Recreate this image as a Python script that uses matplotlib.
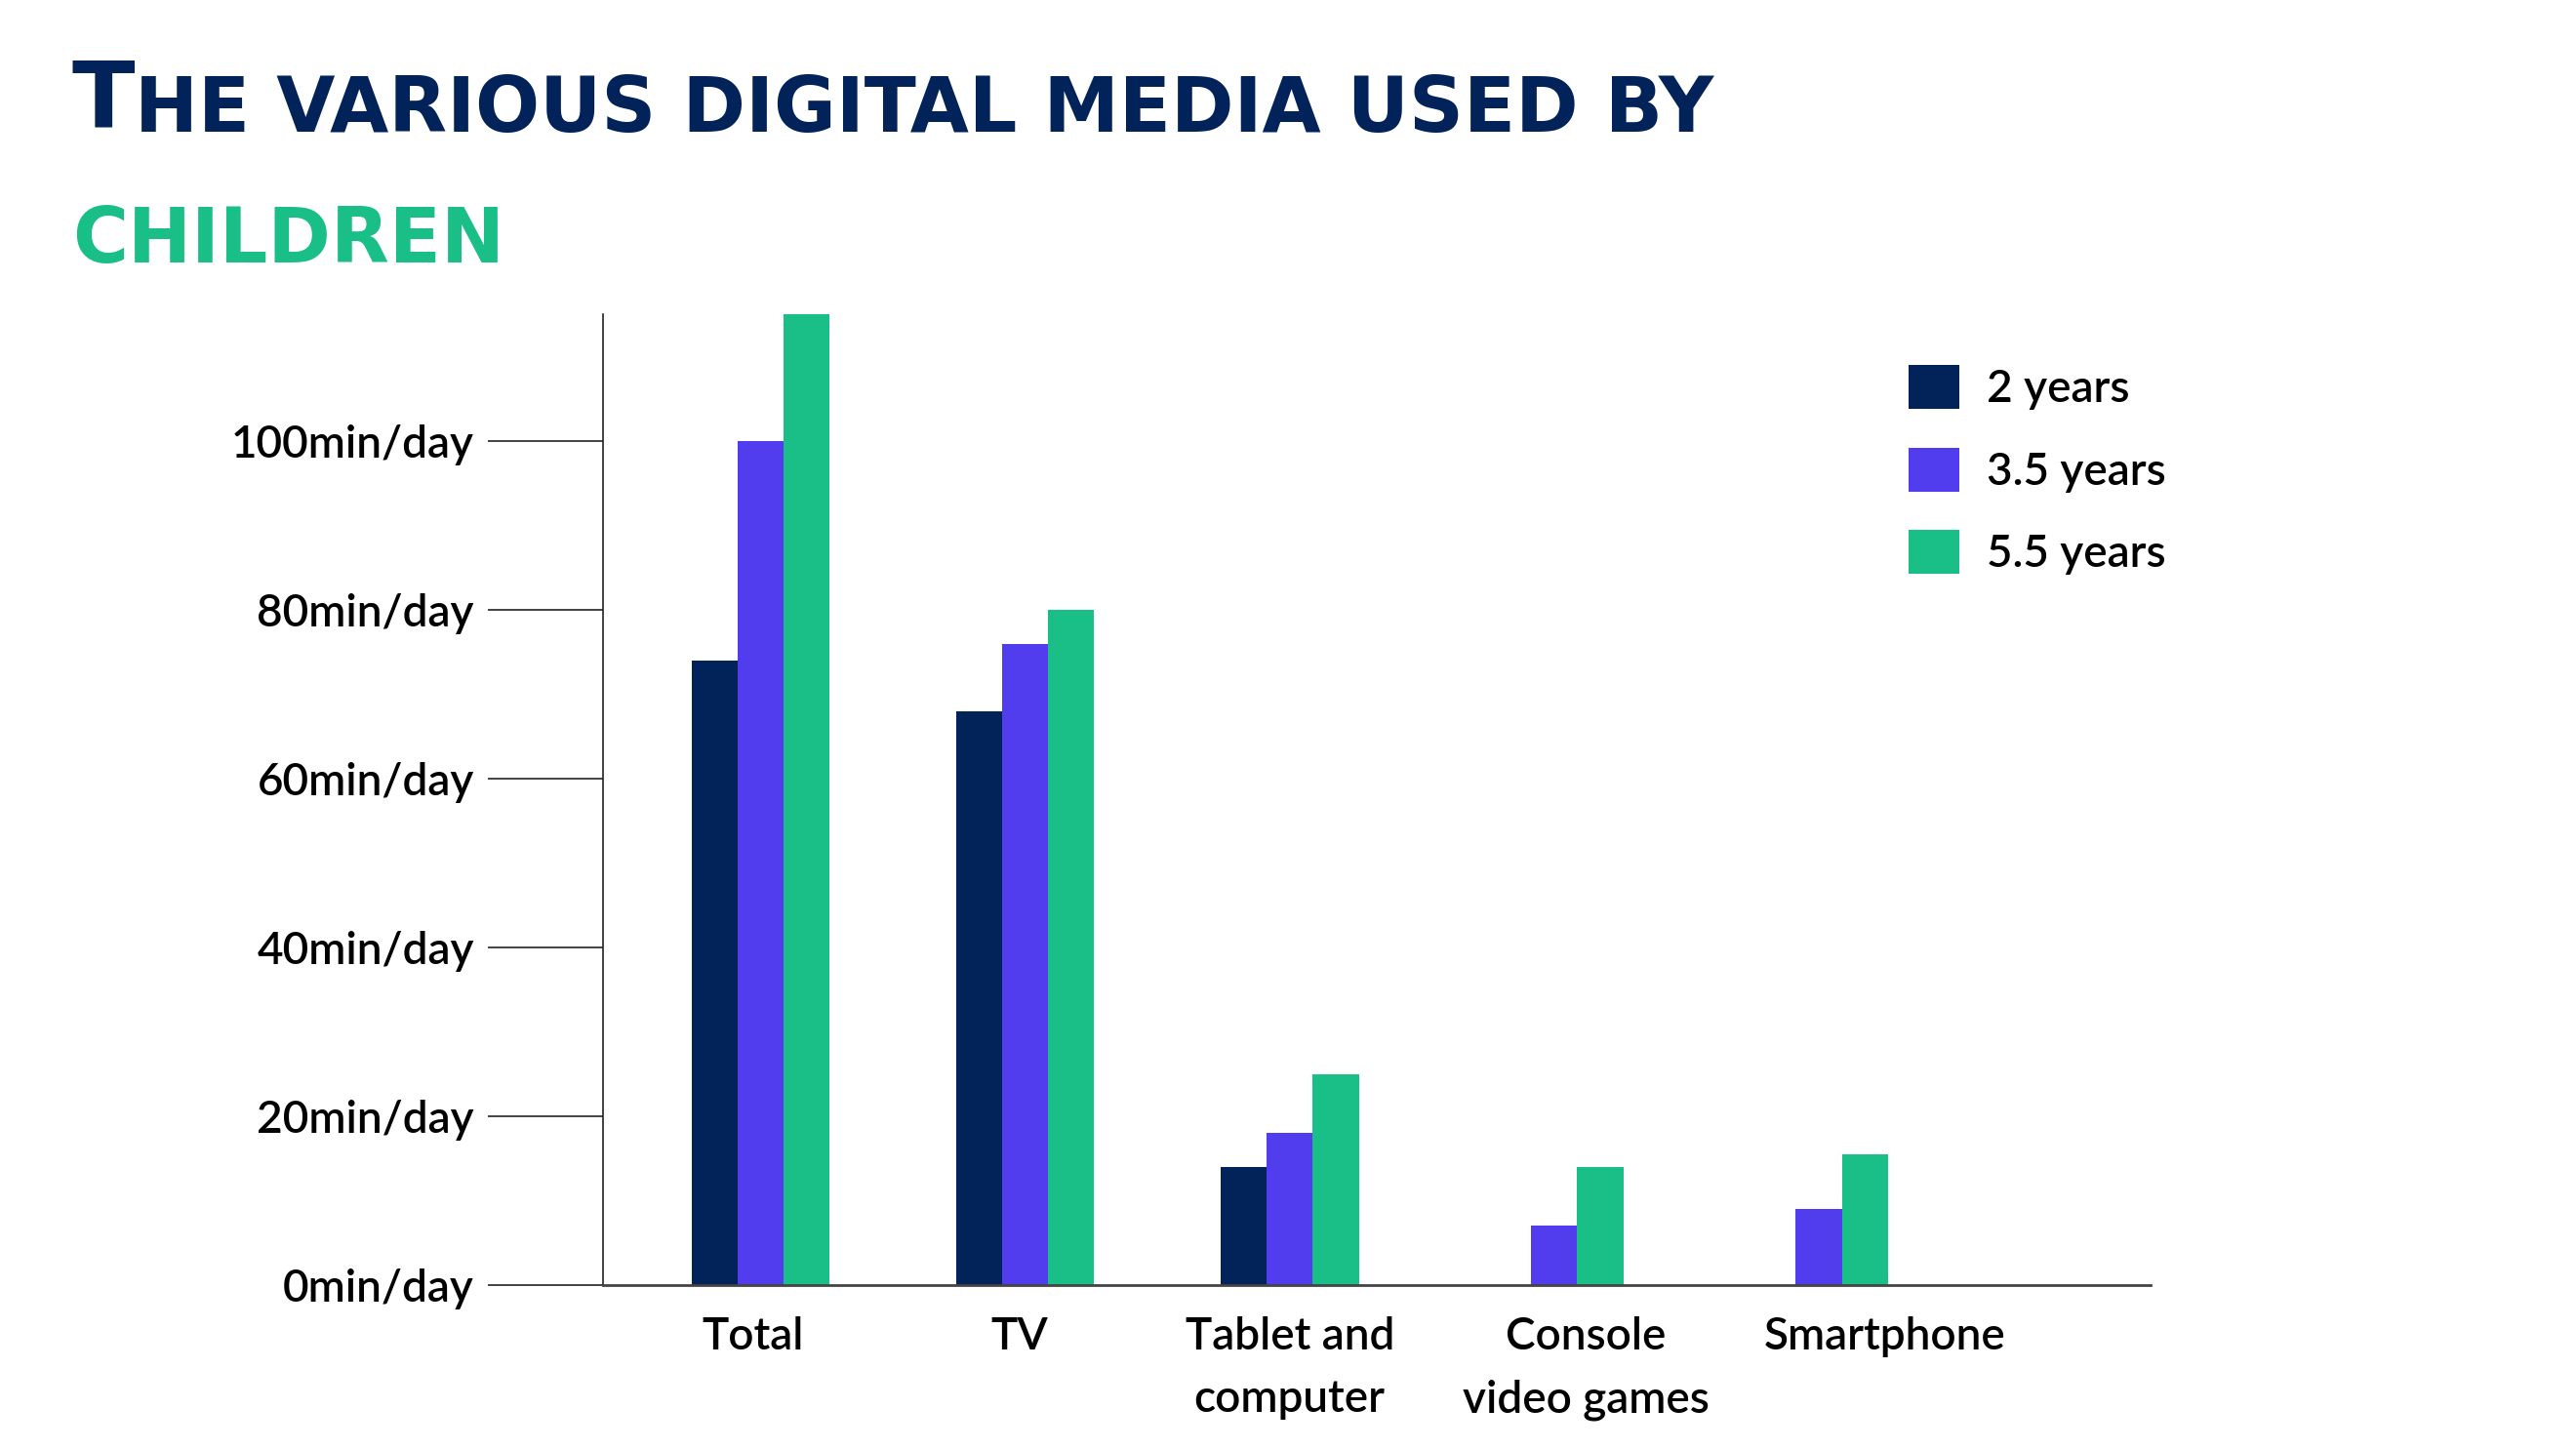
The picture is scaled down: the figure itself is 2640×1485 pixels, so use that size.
import matplotlib
matplotlib.use('Agg')

import matplotlib.pyplot as plt
import numpy as np

# data
categories = ["Total", "TV", "Tablet and\ncomputer", "Console\nvideo games", "Smartphone"]
series_names = ["2 years", "3.5 years", "5.5 years"]
two_years = [74, 68, 14, 0, 0]
three_half_years = [100, 76, 18, 7, 9]
five_half_years = [115, 80, 25, 14, 15.5]
y_ticks = [0, 20, 40, 60, 80, 100]
y_tick_labels = [f"{v}min/day" for v in y_ticks]

colors = ["#022359", "#523DEE", "#1ABF88"]
navy = "#022359"
green = "#1ABF88"

plt.rcParams['font.family'] = ['Lato', 'DejaVu Sans']

fig = plt.figure(figsize=(26.4, 14.85), dpi=100)
ax = fig.add_axes([0.234, 0.1131, 0.601, 0.670])

x = np.arange(len(categories))
w = 0.174
for i, (vals, name) in enumerate(zip([two_years, three_half_years, five_half_years], series_names)):
    ax.bar(x + (i - 1) * w, vals, width=w, color=colors[i], label=name, linewidth=0)

ax.set_ylim(0, 115)
ax.set_xlim(-0.596, len(categories) - 1 + 1.255)

# y axis: long tick lines sticking out to the left
ax.set_yticks(y_ticks)
ax.set_yticklabels(y_tick_labels, fontsize=33, fontweight='semibold')
ax.tick_params(axis='y', length=85, width=1.2, color='#222222', pad=10)

# x labels, the last two sit a bit right of the group centre in the original
label_shift = [-0.03, -0.02, 0, 0.12, 0.25]
ax.set_xticks(x + np.array(label_shift))
ax.set_xticklabels(categories, fontsize=33, fontweight='semibold', linespacing=1.65)
ax.tick_params(axis='x', length=0, pad=23)

for s in ['top', 'right']:
    ax.spines[s].set_visible(False)
ax.spines['left'].set_linewidth(1.2)
ax.spines['left'].set_color('#222222')
ax.spines['bottom'].set_linewidth(2)
ax.spines['bottom'].set_color('#444444')

fig.legend(loc='upper left', bbox_to_anchor=(0.741, 0.748), frameon=False,
           prop={'weight': 'semibold', 'size': 33},
           handlelength=1.14, handleheight=1.14, labelspacing=0.835,
           handletextpad=0.6, borderpad=0, borderaxespad=0)

# title with small caps look: big T, smaller caps after it
title_font = ['DejaVu Sans']
t1 = fig.text(0.028, 0.912, "T", fontsize=68, fontweight='bold', family=title_font,
              color=navy, va='baseline')
ax.annotate("HE VARIOUS DIGITAL MEDIA USED BY", xy=(1, 0), xycoords=t1,
            fontsize=56, fontweight='bold', family=title_font, color=navy,
            va='bottom', ha='left', annotation_clip=False)
fig.text(0.028, 0.819, "CHILDREN", fontsize=56, fontweight='bold', family=title_font,
         color=green, va='baseline')

fig.savefig('out.png', dpi=100)
